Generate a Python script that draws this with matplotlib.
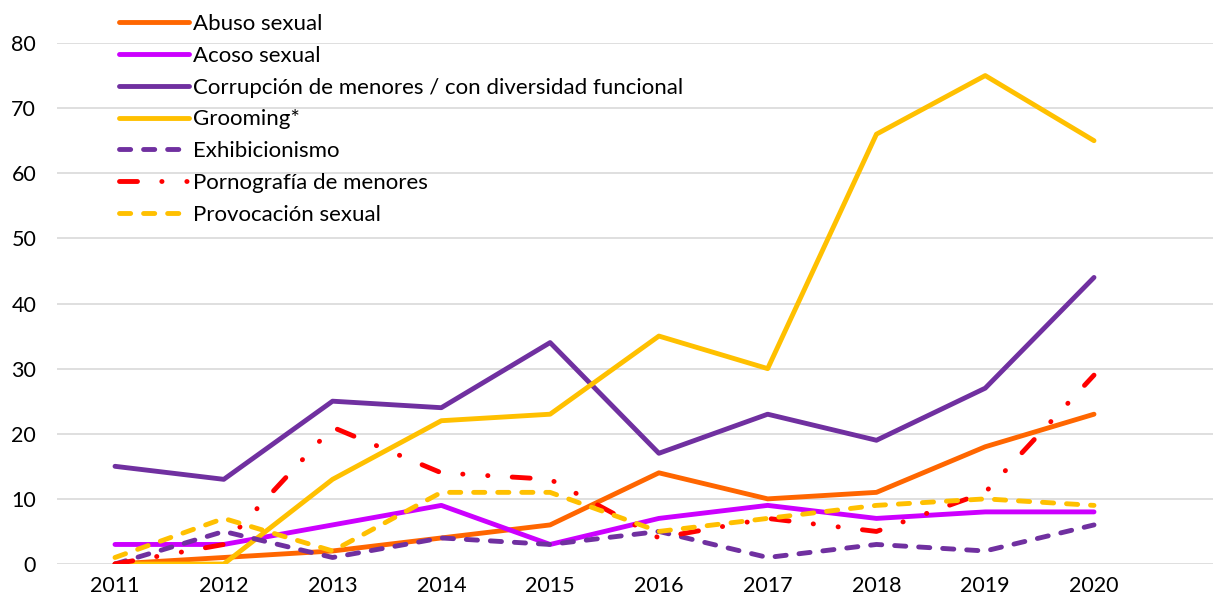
import numpy as np
import matplotlib.pyplot as plt

years = [2011, 2012, 2013, 2014, 2015, 2016, 2017, 2018, 2019, 2020]

abuso = [0, 1, 2, 4, 6, 14, 10, 11, 18, 23]
acoso = [3, 3, 6, 9, 3, 7, 9, 7, 8, 8]
corrupcion = [15, 13, 25, 24, 34, 17, 23, 19, 27, 44]
grooming = [0, 0, 13, 22, 23, 35, 30, 66, 75, 65]
exhibicionismo = [0, 5, 1, 4, 3, 5, 1, 3, 2, 6]
pornografia = [0, 3, 21, 14, 13, 4, 7, 5, 11, 29]
provocacion = [1, 7, 2, 11, 11, 5, 7, 9, 10, 9]

labels = ['Abuso sexual', 'Acoso sexual',
          'Corrupción de menores / con diversidad funcional', 'Grooming*',
          'Exhibicionismo', 'Pornografía de menores', 'Provocación sexual']

plt.rcParams['font.family'] = ['Lato', 'DejaVu Sans']

W, H = 1213, 607
fig = plt.figure(figsize=(W / 100, H / 100), dpi=100)
ax = fig.add_axes([57 / W, 1 - 564 / H, (W - 57) / W, (564 - 43) / H])

lw = 3.5
common = dict(lw=lw, solid_capstyle='round', solid_joinstyle='round',
              dash_capstyle='round', dash_joinstyle='round')

ax.plot(years, abuso, color='#FF6600', label=labels[0], **common)
ax.plot(years, acoso, color='#CC00FF', label=labels[1], **common)
ax.plot(years, corrupcion, color='#7030A0', label=labels[2], **common)
ax.plot(years, grooming, color='#FFC000', label=labels[3], **common)
ax.plot(years, exhibicionismo, color='#7030A0', label=labels[4],
        dashes=(2.3, 2.65), **common)
ax.plot(years, pornografia, color='#FF0000', label=labels[5],
        dashes=(3.7, 5, 0.05, 5.1, 0.05, 5), **common)
ax.plot(years, provocacion, color='#FFC000', label=labels[6],
        dashes=(2.3, 2.65), **common)

step = (1094 - 115) / 9
ax.set_xlim(2011 - (115 - 57) / step, 2020 + (W - 1094) / step)
ax.set_ylim(0, 80)
ax.set_yticks(np.arange(0, 81, 10))
ax.set_xticks(years)
ax.yaxis.grid(True, color='#D9D9D9', lw=1.2)
ax.set_axisbelow(True)
for s in ax.spines.values():
    s.set_visible(False)
ax.tick_params(length=0, labelsize=15.5, colors='black')
ax.tick_params(axis='x', pad=9)
ax.tick_params(axis='y', pad=15)

fig.legend(loc='upper left', bbox_to_anchor=(108 / W, 1 - 3 / H),
           frameon=False, fontsize=16, handlelength=3.15,
           handletextpad=0.18, labelspacing=0.53, borderpad=0)

fig.savefig('out.png', dpi=100)
